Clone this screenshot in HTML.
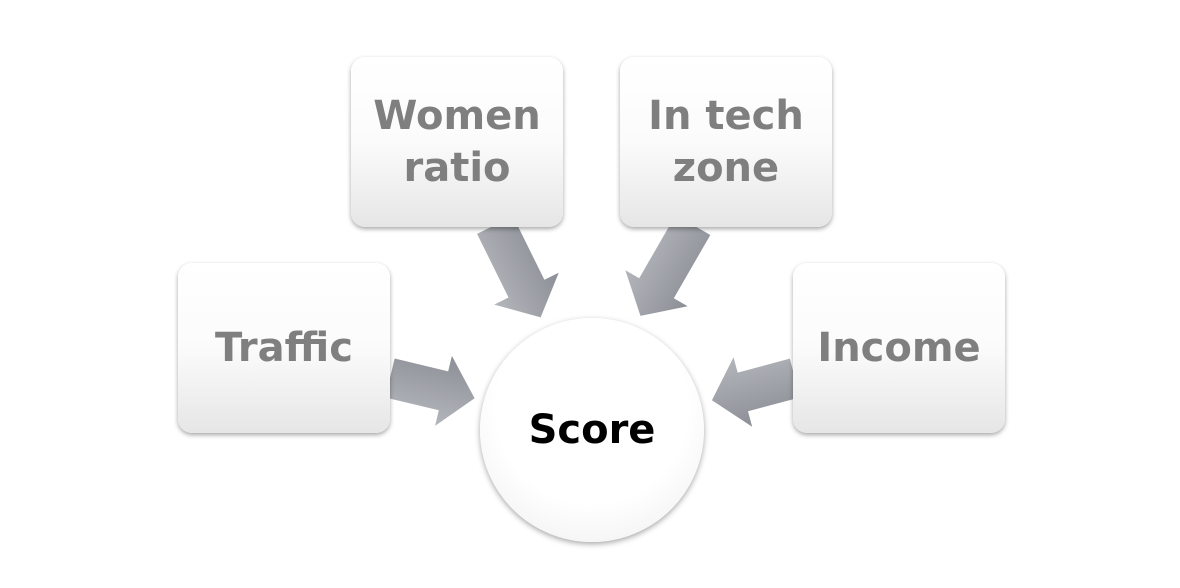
<!DOCTYPE html>
<html><head><style>
body{margin:0;width:1180px;height:588px;background:#fff;position:relative;overflow:hidden;font-family:"DejaVu Sans","Liberation Sans",sans-serif;}
.b{position:absolute;width:212px;height:170px;border-radius:14px;background:linear-gradient(#fff 0%,#fbfbfb 50%,#e6e6e6 100%);box-shadow:0 2px 5px rgba(0,0,0,.35);display:flex;align-items:center;justify-content:center;text-align:center;color:#7f7f7f;font-weight:bold;font-size:40px;line-height:52px;}
.c{position:absolute;left:480px;top:318px;width:224px;height:224px;border-radius:50%;background:radial-gradient(circle at 50% 40%,#fff 55%,#ececec 100%);box-shadow:0 2px 6px rgba(0,0,0,.35);display:flex;align-items:center;justify-content:center;font-weight:bold;font-size:40px;color:#000;}
svg{position:absolute;left:0;top:0}
</style></head><body>
<svg width="1180" height="588">
<defs><linearGradient id="g" x1="0" y1="0" x2="0" y2="1"><stop offset="0" stop-color="#8c8f96"/><stop offset="1" stop-color="#b3b6bb"/></linearGradient></defs>
<g fill="url(#g)">
<polygon transform="translate(390,378) rotate(13.5)" points="0,-20 55,-20 55,-36 87,0 55,36 55,20 0,20"/>
<polygon transform="translate(495,225) rotate(63.7)" points="0,-20 71,-20 71,-36 103,0 71,36 71,20 0,20"/>
<polygon transform="translate(693,225) rotate(120)" points="0,-20 73,-20 73,-36 105,0 73,36 73,20 0,20"/>
<polygon transform="translate(795,378) rotate(165)" points="0,-20 54,-20 54,-36 86,0 54,36 54,20 0,20"/>
</g></svg>
<div class="b" style="left:178px;top:263px">Traffic</div>
<div class="b" style="left:351px;top:57px">Women<br>ratio</div>
<div class="b" style="left:620px;top:57px">In tech<br>zone</div>
<div class="b" style="left:793px;top:263px">Income</div>
<div class="c">Score</div>
</body></html>
